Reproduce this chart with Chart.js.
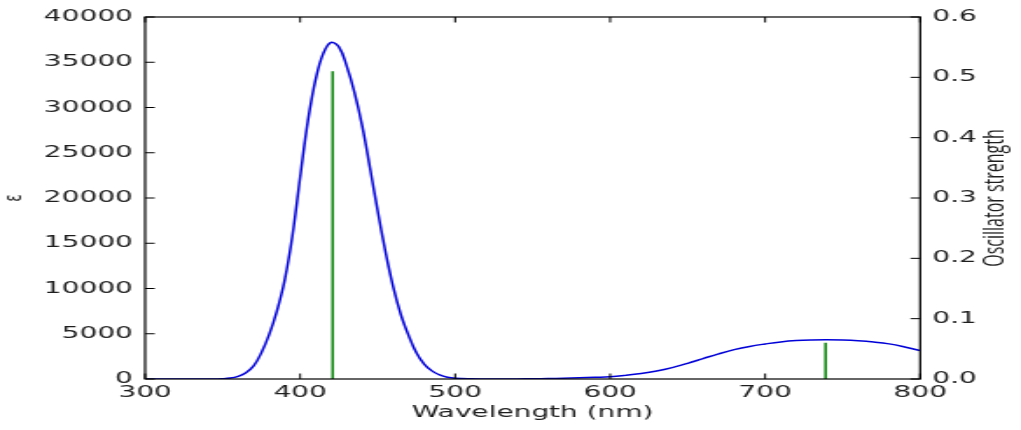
<!DOCTYPE html>
<html>
<head>
<meta charset="utf-8">
<script src="https://cdn.jsdelivr.net/npm/chart.js"></script>
<style>
  html, body { margin: 0; padding: 0; background: #fff; overflow: hidden; }
  /* the reference is a horizontally stretched figure, so draw narrow and stretch */
  #wrap { width: 584px; height: 430px; transform-origin: 0 0; transform: scaleX(1.7483); }
</style>
</head>
<body>
<div id="wrap"><canvas id="chart" width="584" height="430"></canvas></div>
<script>
// Absorption spectrum (epsilon)
const wavelength = [300, 310, 320, 330, 340, 345, 350, 355, 360, 365, 370, 375, 380, 385, 390, 395,
  400, 405, 410, 415, 420, 425, 430, 435, 440, 445, 450, 455, 460, 465, 470, 475, 480, 485, 490, 495,
  500, 510, 520, 530, 540, 550, 560, 570, 580, 590, 600, 610, 620, 630, 640, 650, 660, 670, 680, 690,
  700, 710, 720, 730, 740, 750, 760, 770, 780, 790, 800];
const epsilon = [0, 0, 0, 0, 2, 8, 25, 100, 300, 700, 1450, 2900, 4900, 7500, 10900, 15800,
  22300, 28500, 33100, 36000, 37200, 36700, 34600, 31700, 28000, 23400, 18600, 14100, 10200, 7100, 4800, 2900, 1650, 900, 450, 200,
  90, 25, 10, 8, 12, 25, 50, 90, 140, 190, 250, 400, 600, 880, 1260, 1730, 2260, 2780, 3240, 3600,
  3870, 4100, 4250, 4320, 4340, 4310, 4230, 4090, 3880, 3540, 3130];

// Transitions (sticks on the right axis)
const stickNm = [421, 739];
const stickF = [0.51, 0.06];

// Axis ticks
const xTicks = [300, 400, 500, 600, 700, 800];
const epsTicks = [0, 5000, 10000, 15000, 20000, 25000, 30000, 35000, 40000];
const fTicks = [0.0, 0.1, 0.2, 0.3, 0.4, 0.5, 0.6];

const FONT = { family: '"DejaVu Sans", sans-serif', size: 16 };
const TEXT = '#1e1e1e';
const TICK_LEN = 5.5;

const curve = wavelength.map((w, i) => ({ x: w, y: epsilon[i] }));
const sticks = [];
stickNm.forEach((w, i) => {
  sticks.push({ x: w, y: 0 }, { x: w, y: stickF[i] }, { x: w, y: null });
});

// matplotlib-like frame with inward ticks, plus right title read bottom-to-top
const frameTicks = {
  id: 'frameTicks',
  afterDatasetsDraw(chart) {
    const { ctx, chartArea: a, scales } = chart;
    ctx.save();
    ctx.strokeStyle = '#000';
    ctx.lineWidth = 1.2;
    ctx.strokeRect(a.left, a.top, a.right - a.left, a.bottom - a.top);
    ctx.lineWidth = 1;
    ctx.beginPath();
    scales.x.ticks.forEach(t => {
      const px = scales.x.getPixelForValue(t.value);
      ctx.moveTo(px, a.bottom); ctx.lineTo(px, a.bottom - TICK_LEN);
      ctx.moveTo(px, a.top); ctx.lineTo(px, a.top + TICK_LEN);
    });
    scales.y.ticks.forEach(t => {
      const py = scales.y.getPixelForValue(t.value);
      ctx.moveTo(a.left, py); ctx.lineTo(a.left + TICK_LEN, py);
    });
    scales.y2.ticks.forEach(t => {
      const py = scales.y2.getPixelForValue(t.value);
      ctx.moveTo(a.right, py); ctx.lineTo(a.right - TICK_LEN, py);
    });
    ctx.stroke();

    ctx.translate(569, (a.top + a.bottom) / 2);
    ctx.rotate(-Math.PI / 2);
    ctx.textAlign = 'center';
    ctx.textBaseline = 'middle';
    ctx.fillStyle = TEXT;
    ctx.font = '16px "Open Sans", sans-serif';
    ctx.fillText('Oscillator strength', 0, 0);
    ctx.restore();
  }
};

new Chart(document.getElementById('chart'), {
  type: 'line',
  data: {
    datasets: [
      {
        label: 'epsilon',
        data: curve,
        yAxisID: 'y',
        borderColor: '#0000d8',
        borderWidth: 1.5,
        pointRadius: 0,
        tension: 0.4,
        fill: false
      },
      {
        label: 'f',
        data: sticks,
        yAxisID: 'y2',
        borderColor: '#008000',
        borderWidth: 1.5,
        pointRadius: 0,
        spanGaps: false,
        fill: false
      }
    ]
  },
  options: {
    responsive: false,
    animation: false,
    events: [],
    layout: { padding: { top: 17, left: 0, right: 0, bottom: 0 } },
    plugins: { legend: { display: false }, tooltip: { enabled: false } },
    scales: {
      x: {
        type: 'linear',
        min: 300, max: 800,
        grid: { display: false, drawTicks: false },
        border: { display: false },
        afterFit(s) { s.height = 51; },
        afterBuildTicks(s) { s.ticks = xTicks.map(v => ({ value: v })); },
        ticks: { font: FONT, color: TEXT, padding: 4, maxRotation: 0, autoSkip: false, callback: v => String(v) },
        title: { display: true, text: 'Wavelength (nm)', font: FONT, color: TEXT, padding: { top: 0, bottom: 8 } }
      },
      y: {
        position: 'left',
        min: 0, max: 40000,
        grid: { display: false, drawTicks: false },
        border: { display: false },
        afterFit(s) { s.width = 83; },
        afterBuildTicks(s) { s.ticks = epsTicks.map(v => ({ value: v })); },
        ticks: { font: FONT, color: TEXT, padding: 7, autoSkip: false, callback: v => String(v) },
        title: { display: true, text: 'ε', font: { family: '"DejaVu Sans", sans-serif', size: 14 }, color: TEXT, padding: { top: 0, bottom: 0 } }
      },
      y2: {
        position: 'right',
        min: 0, max: 0.6,
        grid: { display: false, drawTicks: false },
        border: { display: false },
        afterFit(s) { s.width = 57.7; },
        afterBuildTicks(s) { s.ticks = fTicks.map(v => ({ value: v })); },
        ticks: { font: FONT, color: TEXT, padding: 7, autoSkip: false, callback: v => Number(v).toFixed(1) }
      }
    }
  },
  plugins: [frameTicks]
});
</script>
</body>
</html>
